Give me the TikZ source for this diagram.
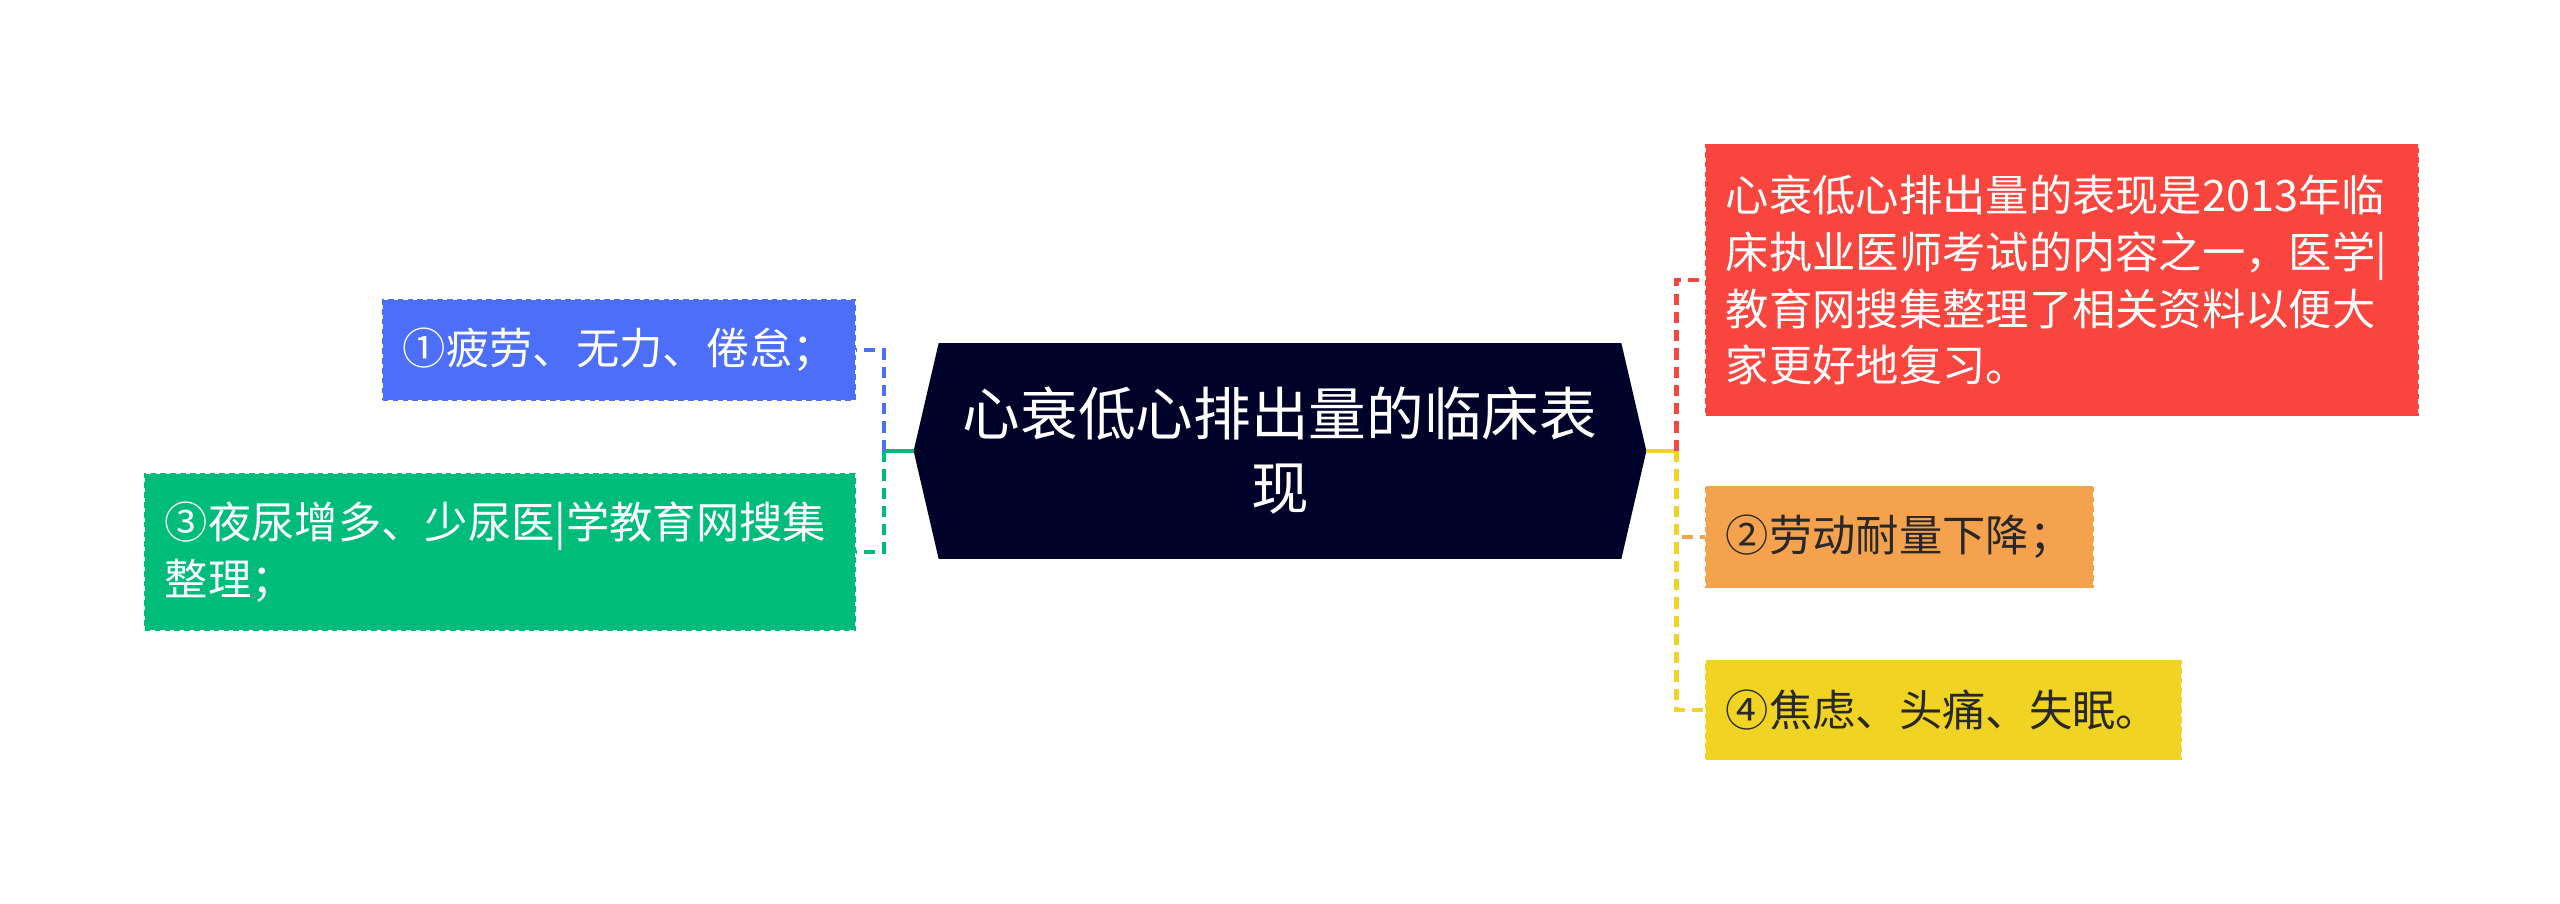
\documentclass[tikz,border=0pt]{standalone}
\usepackage{fontspec}
\newfontfamily\cjk{Noto Sans CJK SC}
\usetikzlibrary{backgrounds}
\definecolor{coreblue}{RGB}{0,2,41}
\definecolor{leafblue}{RGB}{76,110,248}
\definecolor{leafgreen}{RGB}{0,188,123}
\definecolor{leafred}{RGB}{248,69,61}
\definecolor{leaforange}{RGB}{245,162,79}
\definecolor{leafyellow}{RGB}{240,211,35}
\definecolor{leaftext}{RGB}{40,40,40}

\begin{document}
\begin{tikzpicture}
    [ x = 0.025cm, y = -0.025cm
    , topic/.style =
      { font = \cjk\fontsize{41}{52.6}\selectfont, text = white, align = center
      , minimum width = 17.05cm, minimum height = 5.375cm, inner sep = 0pt }
    , leaf/.style =
      { font = \cjk\fontsize{30.8}{40.5}\selectfont, align = left, anchor = west
      , inner xsep = 0.5cm, inner ysep = 0pt, draw = #1, fill = #1
      , dash pattern = on 4pt off 3pt, line width = 1.2pt }
    , light/.style =
      { text = white }
    , dark/.style =
      { text = leaftext }
    , link/.style =
      { line width = 3pt, dash pattern = on 8pt off 5pt }
    , stub/.style =
      { line width = 3pt }
    ]
    \useasboundingbox (0,0) rectangle (2560,903);

    \node [topic] (core) at (1280,451) {心衰低心排出量的临床表\\现};
    \coordinate (tipL) at ([xshift=-0.625cm]core.west);
    \coordinate (tipR) at ([xshift=0.625cm]core.east);
    \coordinate (hubL) at ([xshift=-0.75cm]tipL);
    \coordinate (hubR) at ([xshift=0.75cm]tipR);
    \begin{scope}[on background layer]
      \fill [coreblue] (core.north west) -- (core.north east) -- (tipR)
        -- (core.south east) -- (core.south west) -- (tipL) -- cycle;
    \end{scope}

    % left side
    \node [leaf=leafblue,light,text width=10.8cm,minimum height=2.5cm] (sym1) at (382,350) {①疲劳、无力、倦怠；};
    \node [leaf=leafgreen,light,text width=16.75cm,minimum height=3.9cm] (sym3) at (144,552) {③夜尿增多、少尿医|学教育网搜集\\整理；};

    % right side
    \node [leaf=leafred,light,text width=16.8cm,minimum height=6.775cm] (intro) at (1705,280) {心衰低心排出量的表现是2013年临\\床执业医师考试的内容之一，医学|\\教育网搜集整理了相关资料以便大\\家更好地复习。};
    \node [leaf=leaforange,dark,text width=8.675cm,minimum height=2.525cm] (sym2) at (1705,537) {②劳动耐量下降；};
    \node [leaf=leafyellow,dark,text width=10.875cm,minimum height=2.475cm] (sym4) at (1705,710) {④焦虑、头痛、失眠。};

    \draw [stub,leafgreen] (tipL) -- (hubL);
    \draw [link,leafblue] (hubL) |- (sym1.east);
    \draw [link,leafgreen] (hubL) |- (sym3.east);
    \draw [stub,leafyellow] (tipR) -- (hubR);
    \draw [link,leafred] (hubR) |- (intro.west);
    \draw [link,leaforange] (hubR) |- (sym2.west);
    \draw [link,leafyellow] (hubR) |- (sym4.west);
\end{tikzpicture}
\end{document}
